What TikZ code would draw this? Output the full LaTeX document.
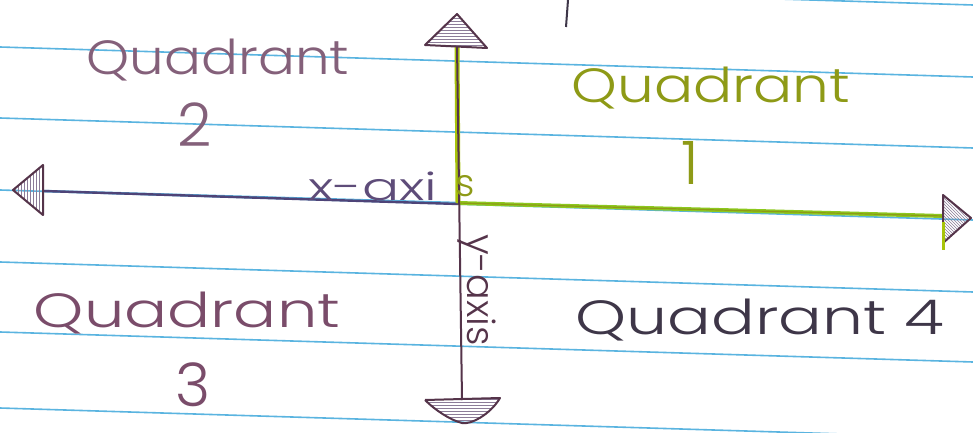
\documentclass[tikz,border=0pt]{standalone}
\usepackage{fontspec}
\setmainfont{Poppins}[UprightFont=* Light]
\usetikzlibrary{patterns}
\definecolor{paper}{HTML}{5AB4E0}
\definecolor{ink}{HTML}{4E4478}
\definecolor{inkdark}{HTML}{55344A}
\definecolor{hlgreen}{HTML}{8CC81E}
\definecolor{ylgreen}{HTML}{A8C40A}
\definecolor{mauve}{HTML}{84607A}
\definecolor{mauvedark}{HTML}{7A4C6A}
\definecolor{olive}{HTML}{8E9A16}
\definecolor{slate}{HTML}{3E3648}
\definecolor{hatch}{HTML}{8C7C98}
\tikzset{
  ruled/.style={paper, line width=1.6pt},
  hand/.style={inner sep=0pt, font=\fontsize{48}{48}\selectfont},
  digit/.style={inner sep=0pt, font=\fontsize{60}{60}\selectfont},
  small/.style={inner sep=0pt, font=\fontsize{38}{38}\selectfont},
  head/.style={draw=inkdark, line width=2pt, line join=round, pattern color=hatch},
}
\begin{document}
\begin{tikzpicture}[x=1pt,y=-1pt]
\useasboundingbox (0,0) rectangle (973,433);
\fill[white] (0,0) rectangle (973,433);
% notebook rules
\foreach \y in {-25,47,118,190,262,332,408}
  \draw[ruled] (0,\y) -- (973,\y+30);
% cut-off stroke at the top
\coordinate (s1) at (568,0);
\coordinate (s2) at (566,27);
\draw[slate, line width=2pt] (s1) -- (s2);
% axis coordinates
\coordinate (L) at (13,190);
\coordinate (O) at (458,203);
\coordinate (R) at (971,218);
\coordinate (T) at (457,14);
\coordinate (B) at (462,423);
\coordinate (Lb) at (43,191);
\coordinate (Rb) at (943,216);
\coordinate (Tb) at (457,46);
\coordinate (Bb) at (462,400);
% x-axis
\draw[paper, line width=2.5pt] (Lb) -- (O);
\draw[ink, line width=2.4pt] (Lb) -- ([yshift=-1pt]O);
\draw[hlgreen, line width=4pt] (O) -- (Rb);
\draw[olive, line width=1.2pt] (O) -- (Rb);
% y-axis
\draw[ylgreen, line width=5pt] (Tb) -- (O);
\draw[inkdark, line width=2pt] (Tb) -- (Bb);
% arrowheads
\draw[head, pattern=vertical lines] (L) -- (43,165) -- (43,215) -- cycle;
\draw[head, pattern=north west lines] (R) -- (943,195) -- (943,243) -- cycle;
\draw[head, pattern=horizontal lines] (T) -- (425,45) -- (487,48) -- cycle;
\draw[head, pattern=horizontal lines] (425,400) -- (500,398) .. controls (490,415) and (470,425) .. (B) .. controls (450,420) and (435,410) .. (425,400);
\draw[ylgreen, line width=3pt] (943,222) -- (943,250);
% labels
\node[hand, text=mauve] (q2) at (218,60) {\scalebox{1.14}[1]{Quadrant}};
\node[digit, text=mauve] (n2) at (195,125) {2};
\node[hand, text=olive] (q1) at (711,88) {\scalebox{1.21}[1]{Quadrant}};
\node[digit, text=olive] (n1) at (690,163) {1};
\node[hand, text=mauvedark] (q3) at (187,313) {\scalebox{1.33}[1]{Quadrant}};
\node[digit, text=mauvedark] (n3) at (193,385) {3};
\node[hand, text=slate] (q4) at (760,320) {\scalebox{1.35}[1]{Quadrant 4}};
\node[small, text=ink!70!mauve] (xa) at (373,186) {\scalebox{1.45}[1]{x-axi}};
\node[small, text=olive] (xs) at (465,186) {s};
\node[small, text=inkdark, rotate=-90] (ya) at (477,290) {y-axis};
\end{tikzpicture}
\end{document}
